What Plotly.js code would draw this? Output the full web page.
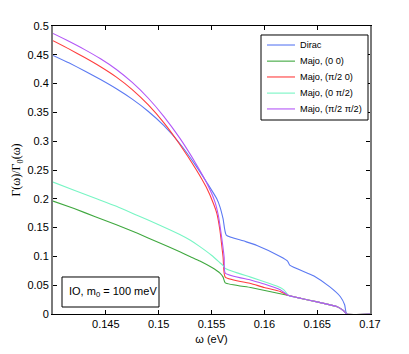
<!DOCTYPE html>
<html>
<head>
<meta charset="utf-8">
<script src="https://cdn.plot.ly/plotly-3.0.1.min.js"></script>
<style>html,body{margin:0;padding:0;background:#fff}#chart{width:409px;height:354px}</style>
</head>
<body>
<div id="chart"></div>
<script>
// ---- data ----
var seriesNames = ["Dirac", "Majo, (0 0)", "Majo, (\u03c0/2 0)", "Majo, (0 \u03c0/2)", "Majo, (\u03c0/2 \u03c0/2)"];
var seriesColors = ["#5b79f2", "#3fa83f", "#ff3d3d", "#78f5c4", "#b357f7"];

var diracX = [0.14, 0.1415, 0.143, 0.1445, 0.146, 0.1475, 0.149, 0.1505, 0.152, 0.1535, 0.1546, 0.1555, 0.1558, 0.1561, 0.1564, 0.158, 0.1593, 0.1615, 0.1622, 0.1624, 0.1647, 0.1662, 0.1672, 0.1676, 0.1678, 0.17];
var diracY = [0.449, 0.436, 0.422, 0.407, 0.391, 0.373, 0.352, 0.327, 0.296, 0.258, 0.227, 0.200, 0.186, 0.165, 0.137, 0.127, 0.119, 0.100, 0.092, 0.085, 0.066, 0.047, 0.030, 0.016, 0, 0];

var majo00X = [0.14, 0.142, 0.144, 0.146, 0.148, 0.150, 0.152, 0.153, 0.1539, 0.155, 0.1558, 0.1561, 0.1563, 0.1587, 0.1605, 0.1623];
var majo00Y = [0.196, 0.183, 0.169, 0.155, 0.140, 0.124, 0.108, 0.0995, 0.092, 0.081, 0.071, 0.064, 0.054, 0.046, 0.039, 0.032];

var majoP0X = [0.14, 0.1415, 0.143, 0.1445, 0.146, 0.1475, 0.149, 0.1505, 0.152, 0.1535, 0.1545, 0.1552, 0.1555, 0.1558, 0.1561, 0.1563, 0.1587, 0.160, 0.1615, 0.1623];
var majoP0Y = [0.4745, 0.4603, 0.4453, 0.4293, 0.4113, 0.3896, 0.3633, 0.3318, 0.2943, 0.2523, 0.2203, 0.191, 0.175, 0.145, 0.098, 0.064, 0.053, 0.046, 0.039, 0.032];

var majo0PX = [0.14, 0.142, 0.144, 0.146, 0.148, 0.150, 0.152, 0.153, 0.1539, 0.155, 0.1558, 0.1561, 0.1563, 0.1587, 0.1605, 0.1615, 0.1619, 0.1623];
var majo0PY = [0.229, 0.215, 0.201, 0.187, 0.171, 0.155, 0.138, 0.128, 0.117, 0.102, 0.089, 0.084, 0.079, 0.064, 0.053, 0.046, 0.041, 0.032];

var majoPPX = [0.14, 0.1415, 0.143, 0.1445, 0.146, 0.1475, 0.149, 0.1505, 0.152, 0.1535, 0.1545, 0.1553, 0.15565, 0.15587, 0.1562, 0.1563, 0.1587, 0.160, 0.1615, 0.1623];
var majoPPY = [0.487, 0.4735, 0.459, 0.443, 0.4245, 0.402, 0.375, 0.3428, 0.3053, 0.2618, 0.229, 0.196, 0.171, 0.145, 0.098, 0.071, 0.059, 0.052, 0.042, 0.032];

// shared tail of all Majorana curves after they merge
var tailX = [0.1635, 0.165, 0.1669, 0.1675, 0.1678, 0.17];
var tailY = [0.027, 0.021, 0.0127, 0.0057, 0, 0];

var xTicks = [0.145, 0.15, 0.155, 0.16, 0.165, 0.17];
var xTickText = ["0.145", "0.15", "0.155", "0.16", "0.165", "0.17"];
var yTicks = [0, 0.05, 0.1, 0.15, 0.2, 0.25, 0.3, 0.35, 0.4, 0.45, 0.5];
var yTickText = ["0", "0.05", "0.1", "0.15", "0.2", "0.25", "0.3", "0.35", "0.4", "0.45", "0.5"];

var xs = [diracX, majo00X.concat(tailX), majoP0X.concat(tailX), majo0PX.concat(tailX), majoPPX.concat(tailX)];
var ys = [diracY, majo00Y.concat(tailY), majoP0Y.concat(tailY), majo0PY.concat(tailY), majoPPY.concat(tailY)];

var traces = seriesNames.map(function (n, i) {
  return {x: xs[i], y: ys[i], name: n, type: "scatter", mode: "lines", showlegend: false,
          line: {color: seriesColors[i], width: 1.1, shape: "spline", smoothing: 0.5}};
});

var font = "Liberation Sans, Arial, Helvetica, sans-serif";

// legend drawn as a boxed key (paper coordinates)
var shapes = [
  {type: "rect", xref: "paper", yref: "paper", x0: 0.6562, x1: 0.9937, y0: 0.6736, y1: 0.9688,
   line: {color: "#000", width: 1}, fillcolor: "#fff", layer: "above"},
  {type: "rect", xref: "paper", yref: "paper", x0: 0.0284, x1: 0.3344, y0: 0.0243, y1: 0.1285,
   line: {color: "#000", width: 1}, fillcolor: "#fff", layer: "above"}
];
var annotations = [
  {xref: "paper", yref: "paper", x: 0.045, y: 0.078, xanchor: "left", yanchor: "middle",
   text: "IO, m<sub>0</sub> = 100 meV", showarrow: false, font: {family: font, size: 11, color: "#000"}}
];
var legendRowY = [0.934, 0.878, 0.823, 0.767, 0.712];
seriesNames.forEach(function (n, i) {
  shapes.push({type: "line", xref: "paper", yref: "paper", x0: 0.675, x1: 0.7634,
               y0: legendRowY[i], y1: legendRowY[i], line: {color: seriesColors[i], width: 1.1}, layer: "above"});
  annotations.push({xref: "paper", yref: "paper", x: 0.774, y: legendRowY[i], xanchor: "left", yanchor: "middle",
                    text: n, showarrow: false, font: {family: font, size: 9.2, color: "#000"}});
});

var layout = {
  width: 409, height: 354,
  margin: {l: 53, r: 39, t: 26, b: 40, pad: 0},
  paper_bgcolor: "#fff", plot_bgcolor: "#fff",
  showlegend: false,
  font: {family: font, size: 11, color: "#000"},
  xaxis: {range: [0.14, 0.17], tickvals: xTicks, ticktext: xTickText,
          ticks: "inside", ticklen: 4, tickcolor: "#000", mirror: "ticks",
          showline: true, linecolor: "#000", linewidth: 1, showgrid: false, zeroline: false,
          tickfont: {family: font, size: 11, color: "#000"},
          title: {text: "\u03c9 (eV)", font: {family: font, size: 11, color: "#000"}, standoff: 6}},
  yaxis: {range: [0, 0.5], tickvals: yTicks, ticktext: yTickText,
          ticks: "inside", ticklen: 4, tickcolor: "#000", mirror: "ticks",
          showline: true, linecolor: "#7a7a7a", linewidth: 2, showgrid: false, zeroline: false,
          tickfont: {family: font, size: 11, color: "#000"},
          title: {text: "\u0393(\u03c9)/\u0393<sub>0</sub>(\u03c9)", font: {family: "Liberation Serif, Times New Roman, serif", size: 12, color: "#000"}, standoff: 4}},
  shapes: shapes,
  annotations: annotations
};

Plotly.newPlot("chart", traces, layout, {displayModeBar: false, staticPlot: true});
</script>
</body>
</html>
